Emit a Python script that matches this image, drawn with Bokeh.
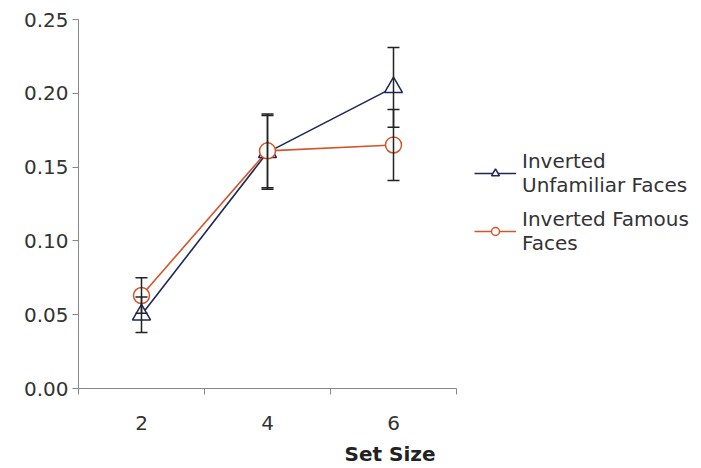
from bokeh.plotting import figure
from bokeh.models import (Range1d, FixedTicker, Whisker, TeeHead, ColumnDataSource,
                          Legend, LegendItem, CustomJSTickFormatter)
from bokeh.embed import file_html
from bokeh.resources import INLINE

set_size = [2, 4, 6]
unfamiliar = [0.050, 0.160, 0.204]
unfamiliar_err = [0.012, 0.025, 0.027]
famous = [0.063, 0.161, 0.165]
famous_err = [0.012, 0.025, 0.024]
y_ticks = [0.0, 0.05, 0.10, 0.15, 0.20, 0.25]
x_bounds = [1, 7]

NAVY = "#1d2858"
ORANGE = "#d4552c"
FONT = "DejaVu Sans"

p = figure(width=701, height=468, output_backend="svg", toolbar_location=None,
           x_range=Range1d(1, 1 + 623 / 63.0), y_range=Range1d(0, 0.25),
           min_border_left=78, min_border_right=0, min_border_top=19, min_border_bottom=0)
p.outline_line_color = None
p.grid.visible = False
p.background_fill_color = "white"
p.border_fill_color = "white"

src_u = ColumnDataSource(dict(x=set_size, y=unfamiliar,
                              lo=[v - e for v, e in zip(unfamiliar, unfamiliar_err)],
                              hi=[v + e for v, e in zip(unfamiliar, unfamiliar_err)]))
src_f = ColumnDataSource(dict(x=set_size, y=famous,
                              lo=[v - e for v, e in zip(famous, famous_err)],
                              hi=[v + e for v, e in zip(famous, famous_err)]))

for src in (src_u, src_f):
    w = Whisker(source=src, base="x", lower="lo", upper="hi", line_color="#222222", line_width=1.5,
                upper_head=TeeHead(size=12, line_color="#222222", line_width=1.5),
                lower_head=TeeHead(size=12, line_color="#222222", line_width=1.5),
                level="glyph")
    p.add_layout(w)

lu = p.line("x", "y", source=src_u, line_color=NAVY, line_width=1.6)
lf = p.line("x", "y", source=src_f, line_color=ORANGE, line_width=1.6)
mu = p.scatter("x", "y", source=src_u, marker="triangle", size=18, fill_color="white",
               line_color=NAVY, line_width=1.5)
mf = p.scatter("x", "y", source=src_f, marker="circle", size=16, fill_color="white",
               line_color=ORANGE, line_width=1.5)

# x axis
xa = p.xaxis[0]
xa.bounds = (x_bounds[0], x_bounds[1])
xa.ticker = FixedTicker(ticks=set_size, minor_ticks=[1, 3, 5, 7])
xa.major_tick_out = 0
xa.major_tick_in = 0
xa.minor_tick_out = 6
xa.minor_tick_in = 0
xa.minor_tick_line_color = "#888888"
xa.axis_line_color = "#888888"
xa.major_label_text_font = FONT
xa.major_label_text_font_size = "20px"
xa.major_label_text_color = "#333333"
xa.major_label_standoff = 21
xa.axis_label = "Set Size"
xa.axis_label_text_font = FONT
xa.axis_label_text_font_style = "bold"
xa.axis_label_text_font_size = "20px"
xa.axis_label_text_color = "#222222"
xa.axis_label_standoff = 9

ya = p.yaxis[0]
ya.ticker = FixedTicker(ticks=y_ticks, minor_ticks=[])
ya.formatter = CustomJSTickFormatter(code="return tick.toFixed(2);")
ya.major_tick_out = 6
ya.major_tick_in = 0
ya.major_tick_line_color = "#888888"
ya.axis_line_color = "#888888"
ya.major_label_text_font = FONT
ya.major_label_text_font_size = "20px"
ya.major_label_text_color = "#333333"
ya.major_label_standoff = 4

legend = Legend(items=[
    LegendItem(label="Inverted\nUnfamiliar Faces", renderers=[lu, mu]),
    LegendItem(label="Inverted Famous\nFaces", renderers=[lf, mf]),
], location=(396, 133))
legend.border_line_color = None
legend.background_fill_alpha = 0
legend.label_text_font = FONT
legend.label_text_font_size = "20px"
legend.label_text_color = "#333333"
legend.label_text_line_height = 1.05
legend.glyph_width = 42
legend.label_standoff = 6
legend.spacing = 10
legend.padding = 0
legend.margin = 0
p.add_layout(legend)

open("out.html", "w").write(file_html(p, INLINE))
